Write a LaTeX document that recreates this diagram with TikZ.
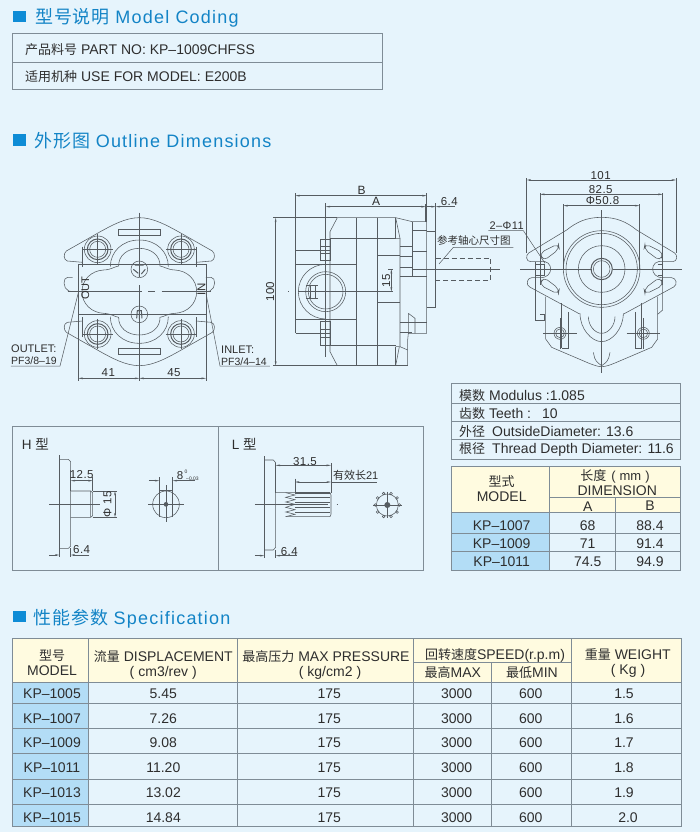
\documentclass[tikz,border=0pt]{standalone}
\usepackage{fontspec}
\setmainfont{Liberation Sans}
\newfontfamily\cjk{Noto Sans CJK SC}
\newfontfamily\hdlat[LetterSpace=6.8]{Liberation Sans}
\newfontfamily\hdcjk[LetterSpace=5]{Noto Sans CJK SC}
\newfontfamily\dimfont[LetterSpace=4]{Liberation Sans}
\usetikzlibrary{arrows.meta}
\definecolor{pagebg}{HTML}{E6F4FC}
\definecolor{headblue}{HTML}{1384C6}
\definecolor{squareblue}{HTML}{0E8CD6}
\definecolor{cream}{HTML}{FFFBE0}
\definecolor{cellblue}{HTML}{B3DDF6}
\definecolor{rulegray}{HTML}{7F8C96}
\definecolor{ink}{HTML}{2E2E2E}
\definecolor{draft}{HTML}{565C61}
\newcounter{nn}
\newcommand\zh[1]{{\cjk #1}}
\newcommand\tx[5][]{\stepcounter{nn}\node[lab,text height={0.716*#2 pt},#1] (t\thenn) at (#3,#4) {\fontsize{#2}{#2}\selectfont #5};}
\newcommand\dm[5][]{\stepcounter{nn}\node[lab,text height={0.716*#2 pt},#1] (t\thenn) at (#3,#4) {\fontsize{#2}{#2}\dimfont #5};}
\tikzset{
  lab/.style={inner sep=0pt,text depth=0pt,text=ink},
  zoomed/.style 2 args={shift={(#1,#2)},x=0.33333pt,y=-0.33333pt},
  rulea/.style={draw=rulegray,line width=0.9pt},
  part/.style={draw=draft,line width=0.55pt},
  heavy/.style={draw=draft,line width=1pt},
  dim/.style={draw=draft,line width=0.5pt},
  dimboth/.style={dim,{Stealth[length=4.5pt,width=1.8pt]}-{Stealth[length=4.5pt,width=1.8pt]}},
  dimend/.style={dim,-{Stealth[length=4.5pt,width=1.8pt]}},
  axisline/.style={draw=draft,line width=0.6pt},
  ghost/.style={draw=draft,line width=0.6pt,dash pattern=on 5pt off 3pt},
}
\begin{document}
\begin{tikzpicture}[x=1pt,y=-1pt]
\useasboundingbox (0,0) rectangle (700,832);
\fill[pagebg] (0,0) rectangle (700,832);

% ---------- headings
\fill[squareblue] (12.7,11) rectangle (25.7,22.3);
\fill[squareblue] (12.7,134) rectangle (25.7,145.7);
\fill[squareblue] (12.7,611) rectangle (25.7,622);
\tx[anchor=west,text=headblue]{18}{35}{17.3}{{\hdcjk 型号说明}\hspace{5.5pt}{\hdlat Model Coding}}
\tx[anchor=west,text=headblue]{18}{34.3}{140.7}{{\hdcjk 外形图}\hspace{5.5pt}{\hdlat Outline Dimensions}}
\tx[anchor=west,text=headblue]{18}{33.3}{617.7}{{\hdcjk 性能参数}\hspace{5.5pt}{\hdlat Specification}}

% ---------- model coding table
\draw[rulea] (12.7,33.7) rectangle (382.3,89);
\draw[rulea] (12.7,62.3) -- (382.3,62.3);
\tx[anchor=west]{14}{25}{49.3}{{\fontsize{13}{13}\cjk 产品料号} PART NO: KP–1009CHFSS}
\tx[anchor=west]{14}{25}{76}{{\fontsize{13}{13}\cjk 适用机种} USE FOR MODEL: E200B}

% ---------- modulus table
\draw[rulea] (451.3,383.3) rectangle (680.7,459);
\foreach \yy in {403.3,421.3,439.7} \draw[rulea] (451.3,\yy) -- (680.7,\yy);
\tx[anchor=west]{14}{459}{395.3}{{\fontsize{13}{13}\cjk 模数} Modulus :1.085}
\tx[anchor=west]{14}{459}{413}{{\fontsize{13}{13}\cjk 齿数} Teeth :\hspace{11pt}10}
\tx[anchor=west]{14}{459}{431}{{\fontsize{13}{13}\cjk 外径}\hspace{7pt}OutsideDiameter:\hspace{5pt}13.6}
\tx[anchor=west]{14}{459}{448.7}{{\fontsize{13}{13}\cjk 根径}\hspace{7pt}Thread Depth Diameter: 11.6}

% ---------- dimension table
\fill[cream] (451.3,466) rectangle (680.7,512.7);
\fill[cellblue] (451.3,512.7) rectangle (549.3,570.7);
\draw[rulea] (451.3,466) rectangle (680.7,570.7);
\draw[rulea] (549.3,466) -- (549.3,570.7);
\draw[rulea] (615.7,497.3) -- (615.7,570.7);
\draw[rulea] (549.3,497.3) -- (680.7,497.3);
\foreach \yy in {512.7,533.3,551.3} \draw[rulea] (451.3,\yy) -- (680.7,\yy);
\tx{13}{501.7}{481.7}{\zh{型式}}
\tx{14}{501.7}{496.7}{MODEL}
\tx{13}{615}{475.7}{\zh{长度}\hspace{5pt}(\hspace{4pt}mm\hspace{4pt})}
\tx{14}{617.3}{490}{DIMENSION}
\tx{14}{587.7}{506}{A}
\tx{14}{650}{505}{B}
\foreach \yy/\ma/\aa/\bb in {525/1007/68/88.4,543.3/1009/71/91.4,561.7/1011/74.5/94.9}{
  \tx{14}{501.7}{\yy}{KP–\ma}
  \tx{14}{587.7}{\yy}{\aa}
  \tx{14}{650}{\yy}{\bb}
}

% ---------- specification table
\fill[cream] (12.7,638) rectangle (681,682.3);
\fill[cellblue] (12.7,682.3) rectangle (88.7,826.3);
\draw[rulea] (12.7,638) rectangle (681,826.3);
\foreach \xx in {88.7,237.7,413.3,571.7} \draw[rulea] (\xx,638) -- (\xx,826.3);
\draw[rulea] (491.7,662.3) -- (491.7,826.3);
\draw[rulea] (413.3,662.3) -- (571.7,662.3);
\foreach \yy in {682.3,703.7,728.7,753.3,779.3,804.3} \draw[rulea] (12.7,\yy) -- (681,\yy);
\tx{13}{52}{656}{\zh{型号}}
\tx{14}{52}{670}{MODEL}
\tx{14}{163.3}{656}{{\fontsize{13}{13}\cjk 流量} DISPLACEMENT}
\tx{14}{163.3}{671}{(\hspace{4pt}cm3/rev\hspace{4pt})}
\tx{14}{326}{656}{{\fontsize{13}{13}\cjk 最高压力} MAX PRESSURE}
\tx{14}{330}{671}{(\hspace{4pt}kg/cm2\hspace{4pt})}
\tx{14}{495}{654.3}{{\fontsize{13}{13}\cjk 回转速度}SPEED(r.p.m)}
\tx{14}{452.8}{672.7}{{\fontsize{13}{13}\cjk 最高}MAX}
\tx{14}{532}{672.7}{{\fontsize{13}{13}\cjk 最低}MIN}
\tx{14}{627.8}{654}{{\fontsize{13}{13}\cjk 重量} WEIGHT}
\tx{14}{628}{669.3}{(\hspace{4pt}Kg\hspace{4pt})}
\foreach \yy/\ma/\dd/\ww/\wx in {693.3/1005/5.45/1.5/624,718.3/1007/7.26/1.6/624,742.7/1009/9.08/1.7/624,767.7/1011/11.20/1.8/624,792.7/1013/13.02/1.9/624,817/1015/14.84/2.0/628}{
  \tx{14}{52}{\yy}{KP–\ma}
  \tx{14}{163.3}{\yy}{\dd}
  \tx{14}{329.3}{\yy}{175}
  \tx{14}{456.7}{\yy}{3000}
  \tx{14}{530.7}{\yy}{600}
  \tx{14}{\wx}{\yy}{\ww}
}

% ---------- front view (zoom coordinates, offset 0,170)
\begin{scope}[zoomed={0}{170}]
  \foreach \sx/\sy in {1/1,-1/1,1/-1,-1/-1}{
    \begin{scope}[shift={(418,365)},xscale=\sx,yscale=\sy]
      \draw[part] (0,-222) .. controls (42,-222) and (84,-198) .. (117,-180) -- (219,-122) .. controls (228,-114) and (228,-96) .. (216,-92) -- (170,-88);
      \draw[part] (170,-135) -- (170,-75);
      \draw[part] (0,-187) -- (62,-187) -- (62,-170) -- (0,-170);
      \draw[part] (125,-127) circle (40);
      \draw[heavy] (125,-127) circle (31);
      \draw[part] (125,-127) circle (24);
      \draw[part] (80,-127) -- (170,-127) (125,-172) -- (125,-82);
      \draw[part] (0,-155) .. controls (51,-155) and (87,-120) .. (87,-75);
      \draw[part] (0,-130) .. controls (36,-130) and (63,-108) .. (62,-77) .. controls (75,-75) and (84,-66) .. (107,-65) .. controls (144,-63) and (172,-36) .. (172,0);
    \end{scope}
  }
  \foreach \sx in {1,-1}{
    \begin{scope}[shift={(418,365)},xscale=\sx]
      \draw[part] (200,-43) -- (215,-43) .. controls (230,-43) and (230,-10) .. (212,-2) -- (200,0);
    \end{scope}
  }
  \draw[part] (235,284) rectangle (618,432);
  \draw[axisline] (418,128) -- (418,320) (418,345) -- (418,590);
  \draw[draft,line width=0.9pt] (203,365) -- (425,365) (445,365) -- (465,365) (485,365) -- (632,365);
  \draw[part] (418,298) circle (25);
  \draw[part] (418,433) circle (25);
  \draw[heavy] (400,298) -- (415,310) (418,312) -- (418,320) (436,298) -- (424,312) (405,285) -- (431,285);
  \draw[heavy] (410,445) -- (412,422) -- (424,422) -- (426,445) (418,415) -- (418,448);
  % leaders
  \draw[dim] (33,588) -- (180,588) -- (235,368);
  \draw[dim] (810,588) -- (660,588) -- (618,370);
  % dimensions
  \draw[dim] (235,368) -- (235,632) (418,590) -- (418,632) (618,370) -- (618,632);
  \draw[dimboth] (235,625) -- (418,625);
  \draw[dimboth] (418,625) -- (618,625);
\end{scope}
\tx[rotate=90]{11}{85.3}{288.3}{OUT}
\tx[rotate=90]{11.5}{201.3}{289.3}{IN}
\tx[anchor=west]{11}{11}{349}{OUTLET:}
\tx[anchor=west]{10.5}{11}{360.7}{PF3/8–19}
\tx[anchor=west]{11}{221}{350}{INLET:}
\tx[anchor=west]{10.5}{221}{361.5}{PF3/4–14}
\dm{11.5}{108.3}{372.3}{41}
\dm{11.5}{174}{372}{45}

% ---------- side view (zoom coordinates, offset 260,170)
\begin{scope}[zoomed={260}{170}]
  \draw[part] (232,143) -- (407,143) -- (457,155) -- (500,155) -- (500,490) -- (445,490) -- (443,510) -- (443,587) -- (232,587) -- (210,545) -- (210,185) -- cycle;
  \draw[part] (288,143) -- (288,587) (353,143) -- (353,587) (407,143) -- (407,205) (407,530) -- (407,587);
  \draw[part] (407,143) -- (420,205) -- (407,205) (407,587) -- (418,530) -- (407,530);
  \draw[part] (210,205) -- (407,205) (210,527) -- (407,527);
  \draw[part] (420,205) -- (420,530) -- (443,540);
  \draw[part] (457,155) -- (457,320);
  \draw[part] (500,185) -- (527,185) -- (527,412) -- (500,412);
  \draw[part] (107,240) -- (210,240) (107,490) -- (210,490) (107,240) -- (107,490);
  \draw[part] (107,283) -- (288,283) -- (288,447) -- (107,447);
  \draw[part] (353,255) -- (420,255) (353,398) -- (420,398);
  \foreach \yy in {228,258,292,320,458,487} \draw[part] (420,\yy) -- (457,\yy);
  \draw[part] (457,180) -- (500,180) (457,245) -- (500,245) (457,318) -- (500,318) (457,458) -- (500,458);
  \draw[part] (445,430) -- (465,445) -- (465,490) (445,430) -- (445,490);
  \draw[part] (197,283) .. controls (152,283) and (115,320) .. (115,365) .. controls (115,410) and (152,447) .. (197,447);
  \draw[part] (197,365) circle (60);
  \draw[part] (197,365) circle (52);
  \draw[part] (150,345) rectangle (167,385);
  \draw[part] (138,345) -- (175,345) (138,385) -- (175,385);
  \draw[part] (182,208) rectangle (210,270) (182,228) -- (210,228) (182,250) -- (210,250);
  \draw[part] (182,455) rectangle (210,525) (182,478) -- (210,478) (182,502) -- (210,502);
  \draw[axisline] (85,365) -- (88,365) (115,365) -- (400,365);
  % shaft ghost
  \draw[ghost] (527,265) -- (692,265) -- (692,332) -- (527,332);
  \draw[axisline] (458,297) -- (720,297);
  % dims
  \draw[dim] (106,70) -- (106,490) (500,70) -- (500,155);
  \draw[dimboth] (106,77) -- (500,77);
  \draw[dim] (197,100) -- (197,560) (497,103) -- (497,155);
  \draw[dimboth] (197,110) -- (497,110);
  \draw[dim] (527,100) -- (527,185);
  \draw[dimend] (497,110) -- (527,110);
  \draw[dim] (585,110) -- (545,110);
  \draw[dimend] (545,110) -- (527,110);
  \draw[dim] (40,143) -- (232,143) (40,587) -- (445,587);
  \draw[dimboth] (47,143) -- (47,587);
  \draw[dim] (385,297) -- (400,297) (385,365) -- (400,365);
  \draw[dimboth] (394,297) -- (394,365);
  % leader
  \draw[dim] (537,282) -- (580,232) -- (760,232);
\end{scope}
\dm{12}{361.7}{190.7}{B}
\dm{12}{376}{201.7}{A}
\dm{11.5}{449.3}{201}{6.4}
\dm[rotate=90]{11.5}{270}{291.7}{100}
\dm[rotate=90]{11.5}{386}{280.7}{15}
\tx[anchor=west]{10.5}{437}{241}{\zh{参考轴心尺寸图}}

% ---------- end view (zoom coordinates, offset 490,165)
\begin{scope}[zoomed={490}{165}]
  \foreach \sx in {1,-1}{
    \begin{scope}[shift={(335,312)},xscale=\sx]
      \draw[part] (0,-155) .. controls (45,-155) and (75,-141) .. (105,-117) -- (219,-48) .. controls (228,-42) and (228,-22) .. (213,-22) -- (186,-22) .. controls (162,-27) and (153,-12) .. (153,0) .. controls (153,12) and (162,27) .. (186,26) -- (210,26) .. controls (225,27) and (228,48) .. (216,54) -- (66,135);
      \draw[part] (65,133) .. controls (65,180) and (30,218) .. (0,218);
      \draw[part] (40,143) .. controls (40,170) and (20,193) .. (0,193);
      \draw[part] (168,83) -- (168,210) -- (150,235) -- (40,282) .. controls (25,288) and (12,293) .. (0,293);
      \draw[part] (25,250) .. controls (18,262) and (30,270) .. (0,290);
      \draw[part,rounded corners=5pt] (130,-76) -- (127,-60) -- (175,-24) -- (186,-48) -- cycle;
      \draw[part,rounded corners=5pt] (130,76) -- (127,60) -- (175,24) -- (186,48) -- cycle;
      \draw[part] (120,103) -- (120,238) (100,130) -- (100,238) -- (120,238);
      \draw[part] (125,193) circle (18);
      \draw[part] (125,193) circle (13);
      \draw[part] (75,193) -- (175,193) (125,148) -- (125,240);
    \end{scope}
  }
  \draw[part] (135,290) -- (135,465) -- (162,465) -- (162,448) -- (150,448);
  \draw[part] (135,298) -- (162,298) -- (162,330) -- (135,330);
  \draw[part] (518,340) -- (518,435) -- (503,448);
  \draw[part] (503,298) -- (518,298) -- (518,330) -- (503,330);
  \draw[part] (335,312) circle (115);
  \draw[part] (335,312) circle (107);
  \draw[part] (335,312) circle (70);
  \draw[heavy] (335,312) circle (32);
  \draw[part] (335,312) circle (25);
  \draw[axisline] (335,135) -- (335,625);
  \draw[axisline] (90,312) -- (305,312) (370,312) -- (575,312);
  \draw[dim] (110,40) -- (110,265) (558,40) -- (558,265);
  \draw[dimboth] (110,45) -- (558,45);
  \draw[dim] (150,85) -- (150,360) (518,85) -- (518,360);
  \draw[dimboth] (150,88) -- (518,88);
  \draw[dim] (220,117) -- (220,312) (448,117) -- (448,312);
  \draw[dimboth] (220,122) -- (448,122);
  \draw[dim] (-5,197) -- (100,197) -- (165,295);
\end{scope}
\dm{11.5}{600.7}{175.7}{101}
\dm{11.5}{600.7}{189.7}{82.5}
\dm{11.5}{602.5}{200.7}{Φ50.8}
\dm[anchor=east]{11}{524}{226}{2–Φ11}

% ---------- shaft panel
\draw[rulea] (12.7,426) rectangle (423.7,570.7);
\draw[rulea] (218.3,426) -- (218.3,570.7);
\tx[anchor=west]{13.5}{21.7}{445}{H \zh{型}}
\tx[anchor=west]{13.5}{231.7}{445}{L \zh{型}}
\begin{scope}[zoomed={0}{420}]
  % H
  \draw[part] (178,118) -- (205,118) -- (212,125) -- (212,378) -- (205,385) -- (178,385) -- cycle;
  \draw[part] (178,105) -- (178,412);
  \draw[part] (212,213) -- (272,213) -- (278,218) -- (278,287) -- (272,292) -- (212,292) (272,213) -- (272,292);
  \draw[axisline] (148,253) -- (300,253);
  \draw[dim] (212,150) -- (212,213) (278,172) -- (278,213);
  \draw[dimboth] (212,182) -- (278,182);
  \draw[dim] (278,213) -- (352,213) (278,292) -- (352,292);
  \draw[dimboth] (345,213) -- (345,292);
  \draw[dim] (212,385) -- (212,412);
  \draw[dimend] (148,405) -- (178,405);
  \draw[dim] (268,405) -- (235,405);
  \draw[dimend] (235,405) -- (212,405);
  \draw[part] (498,253) circle (40);
  \draw[part] (478,225) -- (478,290) (518,225) -- (518,290);
  \draw[part] (478,212) -- (518,212);
  \fill[draft] (498,253) circle (7);
  \draw[axisline] (498,195) -- (498,307) (445,253) -- (552,253);
  \draw[dim] (478,172) -- (478,225) (518,172) -- (518,225);
  \draw[dimend] (447,182) -- (478,182);
  \draw[dimend] (585,182) -- (518,182);
  % L
  \draw[part] (793,120) -- (820,120) -- (827,128) -- (827,382) -- (820,390) -- (793,390) -- cycle;
  \draw[part] (793,108) -- (793,415);
  \draw[part] (827,218) -- (990,218) -- (993,225) -- (993,283) -- (990,290) -- (857,290);
  \draw[draft,line width=1.1pt] (885,219) -- (990,219);
  \foreach \yy in {232,246,262,276} \draw[part] (885,\yy) -- (990,\yy);
  \draw[part] (857,218) -- (885,225) -- (857,232) -- (885,239) -- (857,246) -- (885,253) -- (857,262) -- (885,269) -- (857,276) -- (885,283) -- (857,290);
  \draw[axisline] (765,253) -- (985,253) (1010,253) -- (1015,253);
  \draw[dim] (827,128) -- (827,218) (993,130) -- (993,218) (885,176) -- (885,218);
  \draw[dimboth] (827,136) -- (993,136);
  \draw[dimboth] (885,186) -- (993,186);
  \draw[dim] (993,186) -- (1130,186);
  \draw[dim] (827,390) -- (827,415);
  \draw[dimend] (765,407) -- (793,407);
  \draw[dim] (890,407) -- (850,407);
  \draw[dimend] (850,407) -- (827,407);
  \draw[part] (1162,255) circle (33);
  \fill[draft] (1162,255) circle (9);
  \draw[axisline] (1120,255) -- (1205,255) (1162,215) -- (1162,295);
  \foreach \aa in {0,36,...,324} \draw[part] (1162,255) ++(\aa:36) circle (4);
\end{scope}
\dm{11.5}{81.7}{474}{12.5}
\dm[rotate=90]{11.5}{107.3}{504}{Φ 15}
\dm{11.5}{81.7}{549.3}{6.4}
\tx{11.5}{180}{475.7}{8}
\tx{5}{186}{471.5}{0}
\tx{5}{192.5}{478.8}{–0.03}
\dm{11.5}{305}{461.3}{31.5}
\tx{11}{355.7}{476}{\zh{有效长}21}
\dm{11.5}{289.3}{551.7}{6.4}
\end{tikzpicture}
\end{document}
